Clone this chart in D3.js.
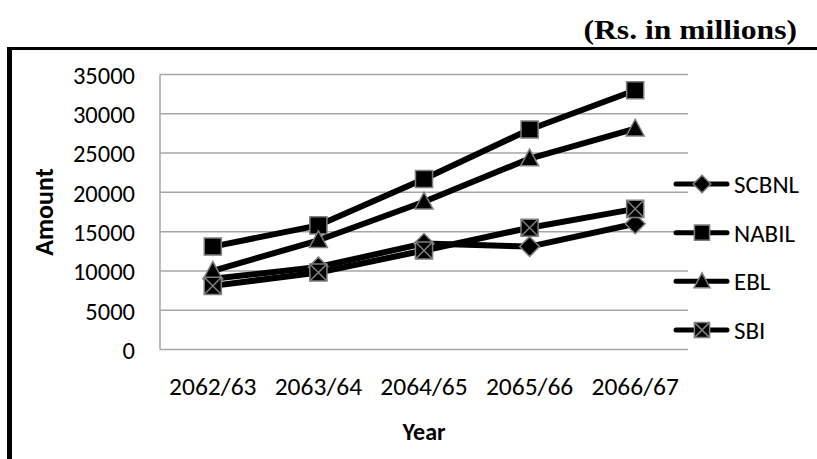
<!DOCTYPE html>
<html>
<head>
<meta charset="utf-8">
<script src="https://cdn.jsdelivr.net/npm/d3@7/dist/d3.min.js"></script>
<style>
  html, body { margin: 0; padding: 0; background: #fff; }
  svg { display: block; }
</style>
</head>
<body>
<svg id="chart" width="817" height="459"></svg>
<script>
// Deposit amounts by bank, Rs. in millions
const years = ["2062/63", "2063/64", "2064/65", "2065/66", "2066/67"];
const seriesNames = ["SCBNL", "NABIL", "EBL", "SBI"];
const scbnl = [9000, 10500, 13500, 13100, 16000];
const nabil = [13100, 15800, 21700, 28000, 33000];
const ebl = [10000, 13900, 18800, 24300, 28100];
const sbi = [8100, 9800, 12600, 15500, 17900];
const yTicks = [0, 5000, 10000, 15000, 20000, 25000, 30000, 35000];
const markerKinds = ["diamond", "square", "triangle", "cross"];

const seriesValues = [scbnl, nabil, ebl, sbi];
const series = seriesNames.map((name, i) => ({
  name, kind: markerKinds[i],
  points: years.map((y, j) => ({ year: y, value: seriesValues[i][j] }))
}));

const svg = d3.select("#chart");
const plot = { left: 160, right: 688, top: 74.5, bottom: 349.5 };
const labelFont = "Carlito, Calibri, Lato, sans-serif";

const x = d3.scaleBand().domain(years).range([plot.left, plot.right]);
const y = d3.scaleLinear().domain([0, 35000]).range([plot.bottom, plot.top]);

// outer frame (top and left edges)
svg.append("line").attr("x1", 7).attr("x2", 817).attr("y1", 48.5).attr("y2", 48.5)
  .attr("stroke", "#000").attr("stroke-width", 3);
svg.append("line").attr("x1", 9.5).attr("x2", 9.5).attr("y1", 47).attr("y2", 459)
  .attr("stroke", "#000").attr("stroke-width", 5);

// unit note
svg.append("text")
  .attr("transform", `translate(797,39) scale(1.13,1)`)
  .attr("text-anchor", "end")
  .attr("font-family", "'Liberation Serif', 'Times New Roman', serif")
  .attr("font-weight", "bold").attr("font-size", 28)
  .text("(Rs. in millions)");

// horizontal gridlines
svg.append("g").selectAll("line").data(yTicks).join("line")
  .attr("x1", plot.left).attr("x2", plot.right)
  .attr("y1", d => y(d)).attr("y2", d => y(d))
  .attr("stroke", "#a6a6a6").attr("stroke-width", 1.5);
// value axis line
svg.append("line").attr("x1", plot.left).attr("x2", plot.left)
  .attr("y1", plot.top).attr("y2", plot.bottom)
  .attr("stroke", "#a6a6a6").attr("stroke-width", 1.5);

// y tick labels
const yAxis = d3.axisLeft(y).tickValues(yTicks).tickSize(0).tickPadding(0).tickFormat(d3.format("d"));
const gy = svg.append("g").attr("transform", `translate(135,0)`).call(yAxis);
gy.select(".domain").remove();
gy.selectAll(".tick text")
  .attr("font-family", labelFont).attr("font-size", 24.5).attr("fill", "#000")
  .attr("x", 0).attr("dy", "0.36em");

// x tick labels
const xAxis = d3.axisBottom(x).tickSize(0).tickPadding(0);
const gx = svg.append("g").attr("transform", `translate(0,377)`).call(xAxis);
gx.select(".domain").remove();
gx.selectAll(".tick text")
  .attr("font-family", labelFont).attr("font-size", 25.5).attr("fill", "#000")
  .attr("y", 0).attr("dy", "0.71em");

// axis titles
svg.append("text")
  .attr("transform", `translate(${(plot.left + plot.right) / 2},440)`)
  .attr("text-anchor", "middle")
  .attr("font-family", labelFont).attr("font-weight", "bold").attr("font-size", 24)
  .text("Year");
svg.append("text")
  .attr("transform", `translate(53,212) rotate(-90)`)
  .attr("text-anchor", "middle")
  .attr("font-family", labelFont).attr("font-weight", "bold").attr("font-size", 26)
  .text("Amount");

// marker shapes
function markerPath(kind, r) {
  const p = d3.path();
  if (kind === "diamond") {
    const d = r * 1.1;
    p.moveTo(0, -d); p.lineTo(d, 0); p.lineTo(0, d); p.lineTo(-d, 0); p.closePath();
  } else if (kind === "square" || kind === "cross") {
    const h = r * 0.95;
    p.rect(-h, -h, 2 * h, 2 * h);
  } else if (kind === "triangle") {
    p.moveTo(0, -r * 1.05); p.lineTo(r, r * 0.8); p.lineTo(-r, r * 0.8); p.closePath();
  }
  return p.toString();
}
function drawMarker(g, kind, r) {
  g.append("path").attr("d", markerPath(kind, r))
    .attr("fill", "#000").attr("stroke", "#7f7f7f").attr("stroke-width", 1.5);
  if (kind === "cross") {
    const h = r * 0.95;
    g.append("path").attr("d", `M${-h},${-h}L${h},${h}M${h},${-h}L${-h},${h}`)
      .attr("stroke", "#7f7f7f").attr("stroke-width", 1.5);
  }
}

const line = d3.line().x(d => x(d.year) + x.bandwidth() / 2).y(d => y(d.value));

series.forEach(s => {
  const g = svg.append("g");
  g.append("path").datum(s.points).attr("d", line)
    .attr("fill", "none").attr("stroke", "#000").attr("stroke-width", 6)
    .attr("stroke-linejoin", "round").attr("stroke-linecap", "round");
  g.selectAll("g.pt").data(s.points).join("g").attr("class", "pt")
    .attr("transform", d => `translate(${x(d.year) + x.bandwidth() / 2},${y(d.value)})`)
    .each(function () { drawMarker(d3.select(this), s.kind, 9); });
});

// legend
const legendY = d3.scalePoint().domain(seriesNames).range([184, 330]);
const lg = svg.append("g").selectAll("g").data(series).join("g")
  .attr("transform", d => `translate(0,${legendY(d.name)})`);
lg.append("line").attr("x1", 676).attr("x2", 727).attr("y1", 0).attr("y2", 0)
  .attr("stroke", "#000").attr("stroke-width", 5).attr("stroke-linecap", "round");
lg.each(function (d) {
  const m = d3.select(this).append("g").attr("transform", "translate(702,0)");
  drawMarker(m, d.kind, 8);
});
lg.append("text")
  .attr("transform", `translate(734,0)`)
  .attr("dy", "0.36em")
  .attr("font-family", labelFont).attr("font-size", 25)
  .text(d => d.name);
</script>
</body>
</html>
